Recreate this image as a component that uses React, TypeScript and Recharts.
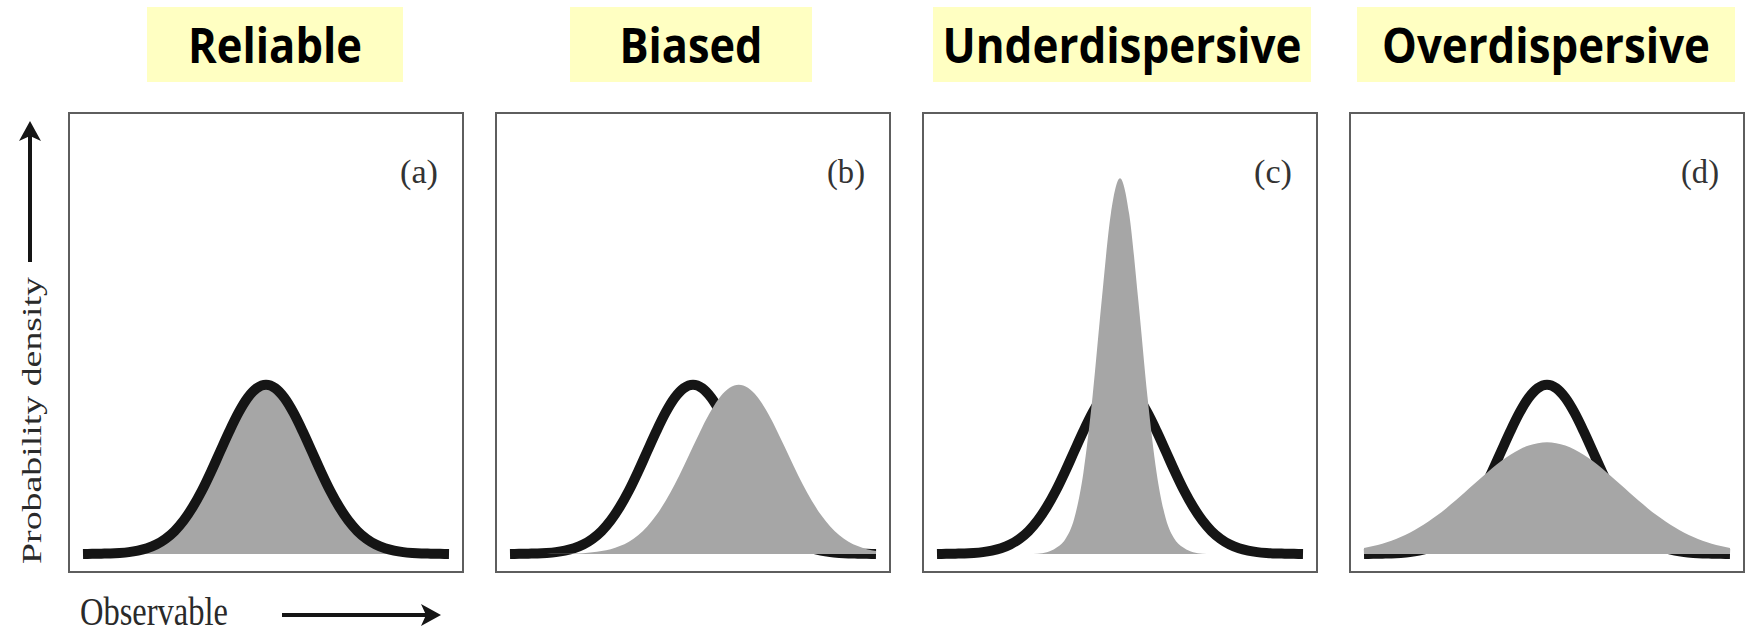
import { ComposedChart, Area, XAxis, YAxis } from "recharts";

// observable axis (standardised units)
const observable = [
  -4, -3.8, -3.6, -3.4, -3.2, -3, -2.8, -2.6, -2.4, -2.2, -2, -1.8, -1.6, -1.4, -1.2, -1, -0.8, -0.6, -0.4, -0.2, 0,
  0.2, 0.4, 0.6, 0.8, 1, 1.2, 1.4, 1.6, 1.8, 2, 2.2, 2.4, 2.6, 2.8, 3, 3.2, 3.4, 3.6, 3.8, 4,
];

// black curve: observed density (same in all panels)
const observed = [
  0, 0.001, 0.002, 0.003, 0.006, 0.011, 0.02, 0.034, 0.056, 0.089, 0.135, 0.198, 0.278, 0.375, 0.487, 0.607, 0.726,
  0.835, 0.923, 0.98, 1, 0.98, 0.923, 0.835, 0.726, 0.607, 0.487, 0.375, 0.278, 0.198, 0.135, 0.089, 0.056, 0.034,
  0.02, 0.011, 0.006, 0.003, 0.002, 0.001, 0,
];

// grey fills: forecast densities
const reliable = [
  0, 0.001, 0.002, 0.003, 0.006, 0.011, 0.02, 0.034, 0.056, 0.089, 0.135, 0.198, 0.278, 0.375, 0.487, 0.607, 0.726,
  0.835, 0.923, 0.98, 1, 0.98, 0.923, 0.835, 0.726, 0.607, 0.487, 0.375, 0.278, 0.198, 0.135, 0.089, 0.056, 0.034,
  0.02, 0.011, 0.006, 0.003, 0.002, 0.001, 0,
];
const biased = [
  0, 0, 0, 0, 0, 0.001, 0.001, 0.003, 0.005, 0.01, 0.017, 0.028, 0.047, 0.073, 0.111, 0.163, 0.23, 0.313, 0.411,
  0.52, 0.635, 0.748, 0.849, 0.93, 0.982, 1, 0.982, 0.93, 0.849, 0.748, 0.635, 0.52, 0.411, 0.313, 0.23, 0.163,
  0.111, 0.073, 0.047, 0.028, 0.017,
];
const underdispersive = [
  0, 0, 0, 0, 0, 0, 0, 0, 0, 0, 0, 0.002, 0.01, 0.035, 0.085, 0.21, 0.48, 0.93, 1.5, 2.01, 2.22, 2.01, 1.5, 0.93,
  0.48, 0.21, 0.085, 0.035, 0.01, 0.002, 0, 0, 0, 0, 0, 0, 0, 0, 0, 0, 0,
];
const overdispersive = [
  0.035, 0.047, 0.061, 0.079, 0.101, 0.126, 0.156, 0.191, 0.229, 0.271, 0.316, 0.364, 0.412, 0.46, 0.507, 0.549,
  0.587, 0.618, 0.641, 0.655, 0.66, 0.655, 0.641, 0.618, 0.587, 0.549, 0.507, 0.46, 0.412, 0.364, 0.316, 0.271,
  0.229, 0.191, 0.156, 0.126, 0.101, 0.079, 0.061, 0.047, 0.035,
];

const titles = ["Reliable", "Biased", "Underdispersive", "Overdispersive"];
const panelLabels = ["(a)", "(b)", "(c)", "(d)"];
const forecasts = [reliable, biased, underdispersive, overdispersive];

// title boxes: [left, width, textWidth]
const titleBoxes = [
  [147, 256, 174],
  [570, 242, 143],
  [933, 378, 359],
  [1357, 378, 328],
];

const GREY = "#a6a6a6";
const INK = "#151515";

function Panel({ forecast, greyOnTop }: { forecast: number[]; greyOnTop: boolean }) {
  const data = observable.map((x, i) => ({ x, obs: observed[i], fc: forecast[i] }));
  const obsArea = (
    <Area
      key="obs"
      type="monotone"
      dataKey="obs"
      stroke={INK}
      strokeWidth={10}
      fill="none"
      fillOpacity={0}
      dot={false}
      activeDot={false}
      isAnimationActive={false}
    />
  );
  const fcArea = (
    <Area
      key="fc"
      type="monotone"
      dataKey="fc"
      stroke="none"
      fill={GREY}
      fillOpacity={1}
      dot={false}
      activeDot={false}
      isAnimationActive={false}
    />
  );
  return (
    <ComposedChart width={392} height={457} data={data} margin={{ top: 0, right: 13, bottom: 17, left: 13 }}>
      <XAxis type="number" dataKey="x" domain={[-4, 4]} hide />
      <YAxis type="number" domain={[0, 2.6]} hide />
      {greyOnTop ? [obsArea, fcArea] : [fcArea, obsArea]}
    </ComposedChart>
  );
}

export default function App() {
  return (
    <div
      style={{
        position: "absolute",
        left: 0,
        top: 0,
        width: 1750,
        height: 635,
        background: "#fff",
        overflow: "hidden",
      }}
    >
      {forecasts.map((fc, i) => (
        <div
          key={i}
          style={{
            position: "absolute",
            left: 68 + i * 427,
            top: 112,
            width: 396,
            height: 461,
            boxSizing: "border-box",
            border: "2px solid #5e5e5e",
          }}
        >
          <Panel forecast={fc} greyOnTop={i !== 0} />
        </div>
      ))}

      <svg width={1750} height={635} style={{ position: "absolute", left: 0, top: 0, pointerEvents: "none" }}>
        {titles.map((t, i) => {
          const [left, w, tw] = titleBoxes[i];
          return (
            <g key={t}>
              <rect x={left} y={7} width={w} height={75} fill="#ffffc2" />
              <text
                x={left + w / 2}
                y={63}
                textAnchor="middle"
                textLength={tw}
                lengthAdjust="spacingAndGlyphs"
                fontFamily="'Open Sans', sans-serif"
                fontWeight={700}
                fontSize={49}
                fill="#000"
              >
                {t}
              </text>
            </g>
          );
        })}

        {panelLabels.map((l, i) => (
          <text
            key={l}
            x={68 + i * 427 + 370}
            y={183}
            textAnchor="end"
            textLength={38}
            lengthAdjust="spacingAndGlyphs"
            fontFamily="'Liberation Serif', serif"
            fontSize={34}
            fill="#333"
          >
            {l}
          </text>
        ))}

        {/* y axis label and arrow */}
        <text
          transform="translate(41,564) rotate(-90)"
          textLength={287}
          lengthAdjust="spacingAndGlyphs"
          fontFamily="'Liberation Serif', serif"
          fontSize={28}
          fill="#2a2a2a"
        >
          Probability density
        </text>
        <line x1={30} y1={262} x2={30} y2={136} stroke={INK} strokeWidth={4} />
        <polygon points="30,121 19,141 30,136 41,141" fill={INK} />

        {/* x axis label and arrow */}
        <text
          x={80}
          y={625}
          textLength={148}
          lengthAdjust="spacingAndGlyphs"
          fontFamily="'Liberation Serif', serif"
          fontSize={39}
          fill="#2a2a2a"
        >
          Observable
        </text>
        <line x1={282} y1={615} x2={426} y2={615} stroke={INK} strokeWidth={4} />
        <polygon points="441,615 421,604 426,615 421,626" fill={INK} />
      </svg>
    </div>
  );
}
